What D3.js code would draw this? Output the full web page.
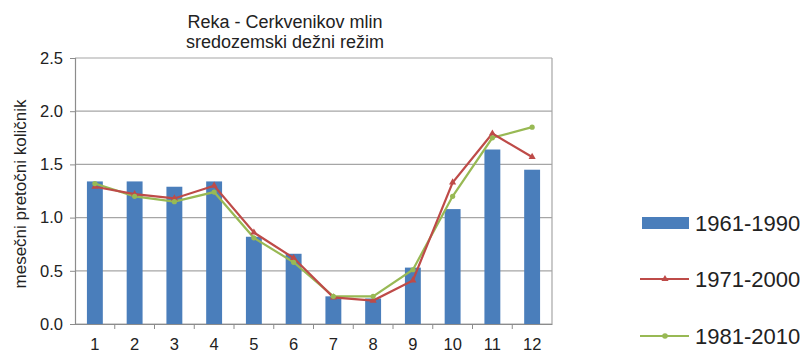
<!DOCTYPE html>
<html>
<head>
<meta charset="utf-8">
<script src="https://cdn.jsdelivr.net/npm/d3@7"></script>
<style>
  body { margin: 0; background: #fff; }
  text { font-family: "Liberation Sans", Arial, sans-serif; fill: #222; }
</style>
</head>
<body>
<svg></svg>
<script>
const width = 805;
const height = 352;

const months = ['1', '2', '3', '4', '5', '6', '7', '8', '9', '10', '11', '12'];
const q1961 = [1.34, 1.34, 1.29, 1.34, 0.82, 0.66, 0.26, 0.24, 0.53, 1.08, 1.64, 1.45];
const q1971 = [1.29, 1.22, 1.18, 1.30, 0.86, 0.62, 0.25, 0.22, 0.41, 1.33, 1.79, 1.57];
const q1981 = [1.32, 1.20, 1.15, 1.24, 0.81, 0.58, 0.26, 0.26, 0.51, 1.20, 1.75, 1.85];
const yTicks = [0, 0.5, 1.0, 1.5, 2.0, 2.5];
const seriesNames = ['1961-1990', '1971-2000', '1981-2010'];

const margin = { top: 58, left: 75, right: 253, bottom: 28 };
const innerW = width - margin.left - margin.right;
const innerH = height - margin.top - margin.bottom;

const svg = d3.select('svg')
	.attr('width', width)
	.attr('height', height);

const x = d3.scaleBand()
	.domain(months)
	.range([margin.left, margin.left + innerW])
	.paddingInner(0.6)
	.paddingOuter(0.3);

const xOuter = d3.scaleBand()
	.domain(months)
	.range([margin.left, margin.left + innerW]);

const y = d3.scaleLinear()
	.domain([0, 2.5])
	.range([margin.top + innerH, margin.top]);

// gridlines
svg.append('g')
	.selectAll('line')
	.data(yTicks)
	.enter().append('line')
		.attr('x1', margin.left)
		.attr('x2', margin.left + innerW)
		.attr('y1', d => y(d))
		.attr('y2', d => y(d))
		.attr('stroke', '#a6a6a6')
		.attr('stroke-width', 1.2);

// right border
svg.append('line')
	.attr('x1', margin.left + innerW)
	.attr('x2', margin.left + innerW)
	.attr('y1', margin.top)
	.attr('y2', margin.top + innerH)
	.attr('stroke', '#a6a6a6')
	.attr('stroke-width', 1.2);

// y axis
const yAxis = svg.append('g')
	.attr('transform', `translate(${margin.left},0)`)
	.call(d3.axisLeft(y).tickValues(yTicks).tickFormat(d3.format('.1f')).tickSize(5).tickPadding(7));
yAxis.select('.domain').attr('stroke', '#8c8c8c').attr('stroke-width', 1.2);
yAxis.selectAll('.tick line').attr('stroke', '#8c8c8c');
yAxis.selectAll('text').style('font-size', '16.5px').attr('fill', '#222');

// x axis
const xAxis = svg.append('g')
	.attr('transform', `translate(0,${margin.top + innerH})`)
	.call(d3.axisBottom(xOuter).tickSize(0).tickPadding(14));
xAxis.select('.domain').attr('stroke', '#8c8c8c').attr('stroke-width', 1.2);
xAxis.selectAll('text').style('font-size', '16.5px').attr('fill', '#222');
xAxis.selectAll('.sep')
	.data(months.slice(1))
	.enter().append('line')
		.attr('class', 'sep')
		.attr('x1', d => xOuter(d))
		.attr('x2', d => xOuter(d))
		.attr('y1', 0)
		.attr('y2', 5)
		.attr('stroke', '#8c8c8c');

// bars
svg.append('g')
	.selectAll('rect')
	.data(q1961)
	.enter().append('rect')
		.attr('x', (d, i) => x(months[i]))
		.attr('y', d => y(d))
		.attr('width', x.bandwidth())
		.attr('height', d => y(0) - y(d))
		.attr('fill', '#4a7ebb');

const cx = (d, i) => xOuter(months[i]) + xOuter.bandwidth() / 2;
const line = d3.line().x(cx).y(d => y(d));

// 1981-2010 line
svg.append('path')
	.datum(q1981)
	.attr('d', line)
	.attr('fill', 'none')
	.attr('stroke', '#98b954')
	.attr('stroke-width', 2.2);

// 1971-2000 line
svg.append('path')
	.datum(q1971)
	.attr('d', line)
	.attr('fill', 'none')
	.attr('stroke', '#be4b48')
	.attr('stroke-width', 2.2);

const tri = d3.symbol().type(d3.symbolTriangle).size(22);
svg.append('g')
	.selectAll('path')
	.data(q1971)
	.enter().append('path')
		.attr('d', tri)
		.attr('transform', (d, i) => `translate(${cx(d, i)},${y(d)})`)
		.attr('fill', '#be4b48');

svg.append('g')
	.selectAll('circle')
	.data(q1981)
	.enter().append('circle')
		.attr('cx', cx)
		.attr('cy', d => y(d))
		.attr('r', 2.6)
		.attr('fill', '#98b954');

// title
svg.append('text')
	.attr('x', 285)
	.attr('y', 28)
	.attr('text-anchor', 'middle')
	.style('font-size', '18px')
	.attr('fill', '#333')
	.text('Reka - Cerkvenikov mlin');
svg.append('text')
	.attr('x', 285)
	.attr('y', 48)
	.attr('text-anchor', 'middle')
	.style('font-size', '18px')
	.attr('fill', '#333')
	.text('sredozemski dežni režim');

// y label
svg.append('text')
	.attr('transform', `translate(26,${margin.top + innerH / 2 + 3}) rotate(-90)`)
	.attr('text-anchor', 'middle')
	.style('font-size', '17px')
	.text('mesečni pretočni količnik');

// legend
const legendY = [223, 279, 336];
const legend = svg.append('g');
legend.append('rect')
	.attr('x', 642)
	.attr('y', legendY[0] - 6)
	.attr('width', 47)
	.attr('height', 12)
	.attr('fill', '#4a7ebb');
legend.append('line')
	.attr('x1', 640).attr('x2', 689)
	.attr('y1', legendY[1]).attr('y2', legendY[1])
	.attr('stroke', '#be4b48').attr('stroke-width', 2.2);
legend.append('path')
	.attr('d', tri)
	.attr('transform', `translate(665,${legendY[1]})`)
	.attr('fill', '#be4b48');
legend.append('line')
	.attr('x1', 640).attr('x2', 689)
	.attr('y1', legendY[2]).attr('y2', legendY[2])
	.attr('stroke', '#98b954').attr('stroke-width', 2.2);
legend.append('circle')
	.attr('cx', 665).attr('cy', legendY[2]).attr('r', 2.8)
	.attr('fill', '#98b954');
legend.selectAll('text')
	.data(seriesNames)
	.enter().append('text')
		.attr('x', 695)
		.attr('y', (d, i) => legendY[i])
		.attr('dy', '0.36em')
		.style('font-size', '22px')
		.text(d => d);
</script>
</body>
</html>
